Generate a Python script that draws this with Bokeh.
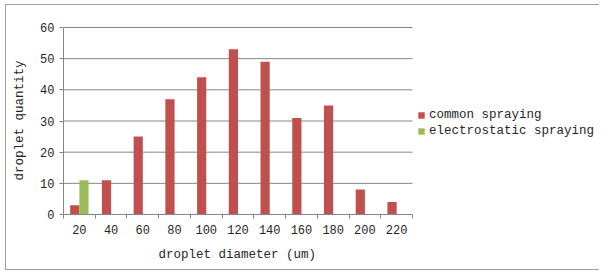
from bokeh.plotting import figure
from bokeh.models import ColumnDataSource, Range1d, FixedTicker, Legend, LegendItem, Title
from bokeh.transform import dodge
from bokeh.embed import file_html
from bokeh.resources import INLINE

categories = ["20", "40", "60", "80", "100", "120", "140", "160", "180", "200", "220"]
common_spraying = [3, 11, 25, 37, 44, 53, 49, 31, 35, 8, 4]
electrostatic_spraying = [11, 0, 0, 0, 0, 0, 0, 0, 0, 0, 0]
y_ticks = [0, 10, 20, 30, 40, 50, 60]

FONT = "Liberation Mono"
TXT = "#262626"
GRID = "#868686"

n = len(categories)
centers = [i + 0.5 for i in range(n)]
src = ColumnDataSource(dict(x=centers, common=common_spraying, electro=electrostatic_spraying))

# the frame also holds the legend area on the right; the axis covers only the categories
W, H = 594, 266
LEFT, TOP, BOTTOM = 57, 21, 57
plot_px = 349
x_end = n * (W - LEFT) / plot_px
y_end = y_ticks[-1] * (H - TOP - BOTTOM) / (H - TOP - BOTTOM - 1)

p = figure(width=W, height=H, output_backend="svg", toolbar_location=None,
           x_range=Range1d(0, x_end), y_range=Range1d(0, y_end),
           min_border_left=LEFT, min_border_right=0, min_border_top=TOP, min_border_bottom=BOTTOM)
p.styles = {"border-left": "1px solid #a0a0a0", "border-top": "1px solid #a0a0a0",
            "border-bottom": "1px solid #a0a0a0", "margin": "4px 0px 0px 5px"}
p.outline_line_color = None
p.background_fill_color = "white"
p.xgrid.grid_line_color = None
p.ygrid.grid_line_color = None

# horizontal grid lines over the category span only
grid_src = ColumnDataSource(dict(y=y_ticks, x0=[0] * len(y_ticks), x1=[n] * len(y_ticks)))
p.segment(x0="x0", x1="x1", y0="y", y1="y", source=grid_src, line_color=GRID, line_width=1)

r1 = p.vbar(x=dodge("x", -0.145, range=p.x_range), top="common", width=0.29, source=src,
            fill_color="#C0504D", line_color=None)
r2 = p.vbar(x=dodge("x", 0.145, range=p.x_range), top="electro", width=0.29, source=src,
            fill_color="#9BBB59", line_color=None)

# x axis: labels at centers, ticks at category boundaries
xa = p.xaxis[0]
xa.bounds = (0, n)
xa.ticker = FixedTicker(ticks=centers, minor_ticks=list(range(n + 1)))
xa.major_label_overrides = {c: lab for c, lab in zip(centers, categories)}
xa.major_tick_line_color = None
xa.major_tick_out = 4
xa.minor_tick_line_color = GRID
xa.minor_tick_in = 0
xa.minor_tick_out = 4
xa.axis_line_color = GRID
xa.major_label_standoff = 6

ya = p.yaxis[0]
ya.bounds = (0, y_ticks[-1])
ya.ticker = FixedTicker(ticks=y_ticks)
ya.minor_tick_line_color = None
ya.major_tick_line_color = GRID
ya.major_tick_in = 0
ya.major_tick_out = 4
ya.axis_line_color = GRID
ya.major_label_standoff = 5
ya.axis_label = "droplet quantity"
ya.axis_label_standoff = 10

for ax in (xa, ya):
    ax.major_label_text_font = FONT
    ax.major_label_text_font_size = "12px"
    ax.major_label_text_color = TXT
    ax.axis_label_text_font = FONT
    ax.axis_label_text_font_size = "12.5px"
    ax.axis_label_text_font_style = "normal"
    ax.axis_label_text_color = TXT

# x-axis title, centred under the category span
xtitle = Title(text="droplet diameter (um)", align="left", offset=95, standoff=19,
               text_font=FONT, text_font_size="12.5px", text_font_style="normal",
               text_color=TXT)
p.add_layout(xtitle, "below")

legend = Legend(items=[LegendItem(label="common spraying", renderers=[r1]),
                       LegendItem(label="electrostatic spraying", renderers=[r2])],
                location=(354, 76), padding=0, margin=0, spacing=2,
                glyph_width=8, glyph_height=8, label_height=13, label_standoff=4,
                label_text_font=FONT, label_text_font_size="12.5px", label_text_color=TXT,
                border_line_color=None, background_fill_alpha=0)
p.add_layout(legend, "center")

open("out.html", "w").write(file_html(p, INLINE))
